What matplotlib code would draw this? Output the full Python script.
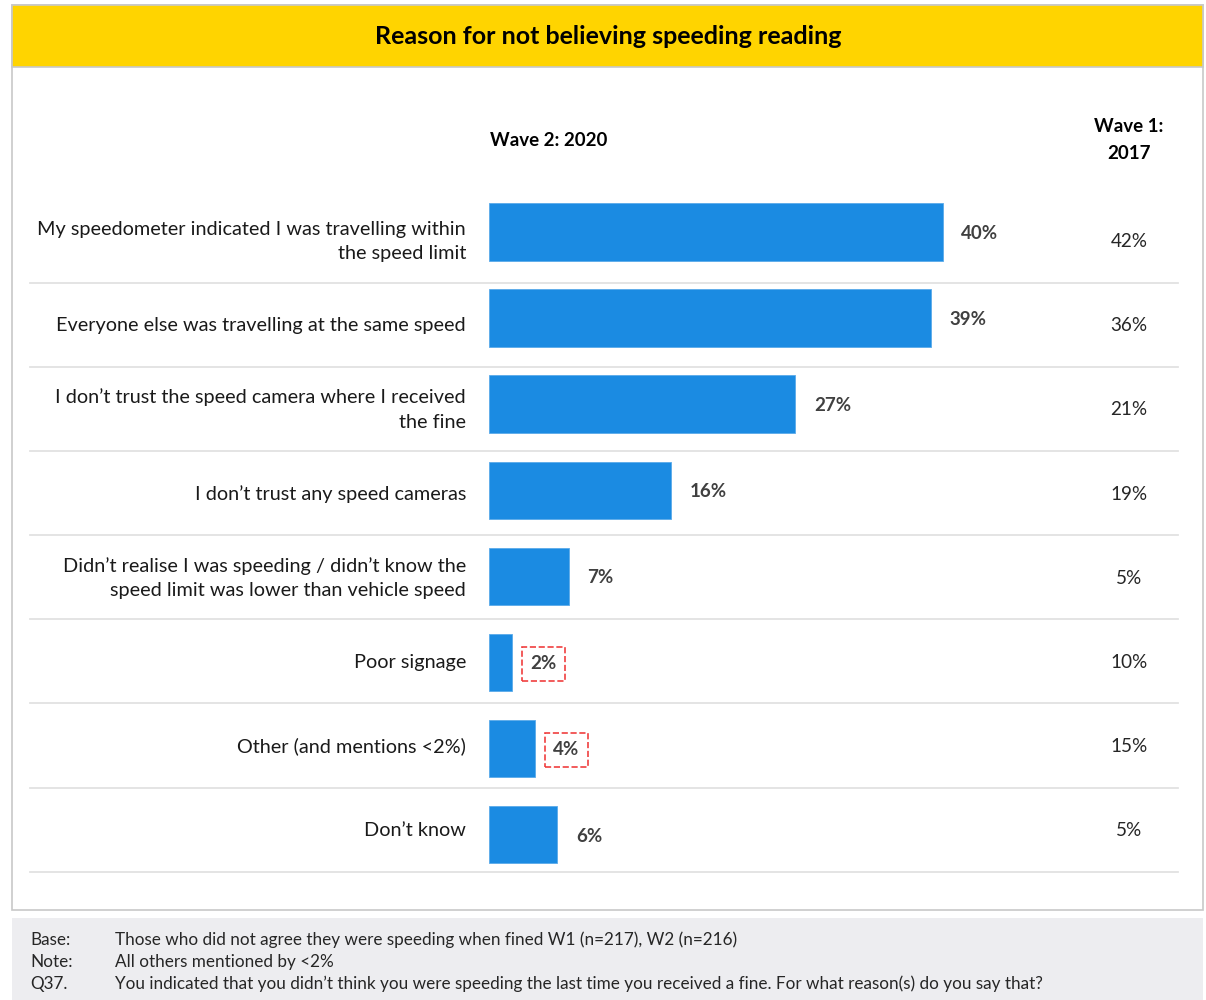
import matplotlib.pyplot as plt
from matplotlib.patches import Rectangle
from matplotlib.lines import Line2D

plt.rcParams['font.family'] = ['Lato', 'DejaVu Sans']

W, H = 1206, 1000

reasons = [
    "My speedometer indicated I was travelling within\nthe speed limit",
    "Everyone else was travelling at the same speed",
    "I don\u2019t trust the speed camera where I received\nthe fine",
    "I don\u2019t trust any speed cameras",
    "Didn\u2019t realise I was speeding / didn\u2019t know the\nspeed limit was lower than vehicle speed",
    "Poor signage",
    "Other (and mentions <2%)",
    "Don\u2019t know",
]
wave2 = [40, 39, 27, 16, 7, 2, 4, 6]
wave1 = [42, 36, 21, 19, 5, 10, 15, 5]
# rows where wave 2 changed significantly from wave 1
flagged = [False, False, False, False, False, True, True, False]

title = "Reason for not believing speeding reading"
footer = [
    ("Base:", "Those who did not agree they were speeding when fined W1 (n=217), W2 (n=216)"),
    ("Note:", "All others mentioned by <2%"),
    ("Q37.", "You indicated that you didn\u2019t think you were speeding the last time you received a fine. "
             "For what reason(s) do you say that?"),
]


def fx(x):
    return x / W


def fy(y):
    return 1 - y / H


fig = plt.figure(figsize=(W / 100, H / 100), dpi=100)
fig.patch.set_facecolor('white')

# panel outline, title banner and footer box
fig.patches.append(Rectangle((fx(12), fy(910)), fx(1203) - fx(12), fy(5) - fy(910),
                             transform=fig.transFigure, fc='white', ec='#C8C8C8', lw=1.2, zorder=-2))
fig.patches.append(Rectangle((fx(12), fy(67)), fx(1203) - fx(12), fy(5) - fy(67),
                             transform=fig.transFigure, fc='#FFD400', ec='#C8C8C8', lw=1.2, zorder=-1))
fig.patches.append(Rectangle((fx(12), fy(1000)), fx(1203) - fx(12), fy(918) - fy(1000),
                             transform=fig.transFigure, fc='#EDEDF0', ec='none', zorder=-2))

fig.text(fx(608), fy(37), title, ha='center', va='center', fontsize=18,
         fontweight='bold', color='black')

# column headers
fig.text(fx(490), fy(140), "Wave 2: 2020", ha='left', va='center', fontsize=13.5,
         fontweight='bold', color='black')
fig.text(fx(1129), fy(140), "Wave 1:\n2017", ha='center', va='center', fontsize=13.5,
         fontweight='bold', color='black', linespacing=1.65)

# table rows: separators, category labels and wave 1 figures
row_pitch = 84.15
first_sep = 282.7
for i, (label, w1) in enumerate(zip(reasons, wave1)):
    sep_y = first_sep + row_pitch * i
    mid_y = sep_y - row_pitch / 2 + 1
    fig.lines.append(Line2D([fx(30), fx(1178)], [fy(sep_y), fy(sep_y)],
                            transform=fig.transFigure, color='#E2E2E2', lw=1.3))
    fig.text(fx(466), fy(mid_y), label, ha='right', va='center', fontsize=14.3,
             color='#1A1A1A', linespacing=1.55)
    fig.text(fx(1129), fy(mid_y), f"{w1}%", ha='center', va='center', fontsize=13.6,
             color='#262626')

# wave 2 bars
bar_pitch = 86.1
top = 232 - bar_pitch / 2
left, right = 489.3, 1180
scale = 11.33  # px per percentage point
ax = fig.add_axes([fx(left), fy(top + bar_pitch * 8), fx(right) - fx(left), fy(top) - fy(top + bar_pitch * 8)])
ax.set_zorder(5)
ax.set_xlim(0, (right - left) / scale)
ax.set_ylim(7.5, -0.5)
ax.axis('off')
ax.patch.set_alpha(0)

ypos = list(range(len(wave2)))
ax.barh(ypos, wave2, height=57.4 / bar_pitch, color='#1B8BE2', edgecolor='#5AAAEA', linewidth=0.6)
for y, v, flag in zip(ypos, wave2, flagged):
    box = None
    if flag:
        box = dict(boxstyle='square,pad=0.45', fc='none', ec='#F04040', ls='--', lw=1.2)
    ax.annotate(f"{v}%", xy=(v, y), xytext=(13.5, -1), textcoords='offset points',
                ha='left', va='center', fontsize=13.5, fontweight='bold', color='#404040', bbox=box)

# footnotes
for i, (key, text) in enumerate(footer):
    y = 940 + 22 * i
    fig.text(fx(30), fy(y), key, ha='left', va='center', fontsize=12.3, color='#262626')
    fig.text(fx(115), fy(y), text, ha='left', va='center', fontsize=12.3, color='#262626')

fig.savefig('out.png', dpi=100)
